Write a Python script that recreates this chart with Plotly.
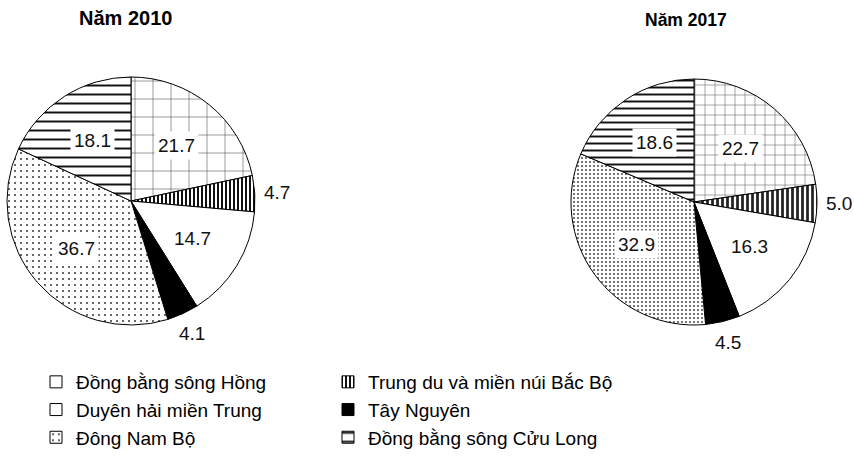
import numpy as np
import plotly.graph_objects as go

# Regional shares (%) for each year
regions = [
    "Đồng bằng sông Hồng",
    "Trung du và miền núi Bắc Bộ",
    "Duyên hải miền Trung",
    "Tây Nguyên",
    "Đông Nam Bộ",
    "Đồng bằng sông Cửu Long",
]
share_2010 = [21.7, 4.7, 14.7, 4.1, 36.7, 18.1]
share_2017 = [22.7, 5.0, 16.3, 4.5, 32.9, 18.6]
year_titles = ["Năm 2010", "Năm 2017"]

W, H = 854, 459
FONT = "Arial, 'Liberation Sans', sans-serif"

# Small slices get their value written outside the circle
label_outside = [False, True, False, True, False, False]

# Geometry of each pie in pixels
pie_geom = [
    dict(cx=131, cy=201, r=124, tx=125, ty=18, tsize=20),
    dict(cx=694, cy=202, r=123, tx=686, ty=20, tsize=17.5),
]

# Monochrome fill patterns per year
patterns = [
    dict(shape=["+", "|", "", "", ".", "-"],
         size=[18, 4, 8, 8, 6, 9],
         solidity=[0.06, 0.5, 0.1, 0.1, 0.1, 0.22],
         fgcolor=["#444", "#111", "#000", "#000", "#444", "#111"]),
    dict(shape=["+", "|", "", "", ".", "-"],
         size=[10, 5, 8, 8, 4, 7],
         solidity=[0.1, 0.55, 0.1, 0.1, 0.22, 0.28],
         fgcolor=["#555", "#222", "#000", "#000", "#555", "#111"]),
]
slice_colors = ["white", "white", "white", "black", "white", "white"]

fig = go.Figure()
annotations = []

for values, title, g, pat in zip([share_2010, share_2017], year_titles, pie_geom, patterns):
    dom_x = [(g["cx"] - g["r"]) / W, (g["cx"] + g["r"]) / W]
    dom_y = [1 - (g["cy"] + g["r"]) / H, 1 - (g["cy"] - g["r"]) / H]
    fig.add_trace(go.Pie(
        labels=regions,
        values=values,
        sort=False,
        direction="clockwise",
        rotation=0,
        textinfo="none",
        hoverinfo="label+value",
        domain=dict(x=dom_x, y=dom_y),
        marker=dict(
            colors=slice_colors,
            line=dict(color="black", width=1),
            pattern=dict(shape=pat["shape"], size=pat["size"],
                         solidity=pat["solidity"], fgcolor=pat["fgcolor"],
                         bgcolor="white", fillmode="replace"),
        ),
    ))

    # value labels placed on each slice's mid-angle
    v = np.asarray(values, dtype=float)
    frac = v / v.sum()
    mids = np.cumsum(frac) - frac / 2
    ang = np.pi / 2 - 2 * np.pi * mids
    for val, a, out in zip(values, ang, label_outside):
        rr = g["r"] + 22 if out else 0.58 * g["r"]
        px = g["cx"] + rr * np.cos(a)
        py = g["cy"] - rr * np.sin(a)
        annotations.append(dict(
            x=px / W, y=1 - py / H, xref="paper", yref="paper",
            text=f"{val:.1f}", showarrow=False,
            xanchor="center", yanchor="middle",
            font=dict(family=FONT, size=19, color="#111"),
            bgcolor=None if out else "white", borderpad=3,
        ))

    annotations.append(dict(
        x=g["tx"] / W, y=1 - g["ty"] / H, xref="paper", yref="paper",
        text=f"<b>{title}</b>", showarrow=False,
        xanchor="center", yanchor="middle",
        font=dict(family=FONT, size=g["tsize"], color="black"),
    ))

fig.update_layout(
    width=W, height=H,
    margin=dict(l=0, r=0, t=0, b=0),
    paper_bgcolor="white",
    plot_bgcolor="white",
    font=dict(family=FONT, color="black"),
    annotations=annotations,
    showlegend=True,
    legend=dict(
        orientation="h",
        x=36 / W, xanchor="left",
        y=1 - 363 / H, yanchor="top",
        entrywidth=247,
        font=dict(family=FONT, size=19, color="black"),
        itemclick=False, itemdoubleclick=False,
        bgcolor="rgba(0,0,0,0)",
    ),
)

fig.write_html("out.html")
